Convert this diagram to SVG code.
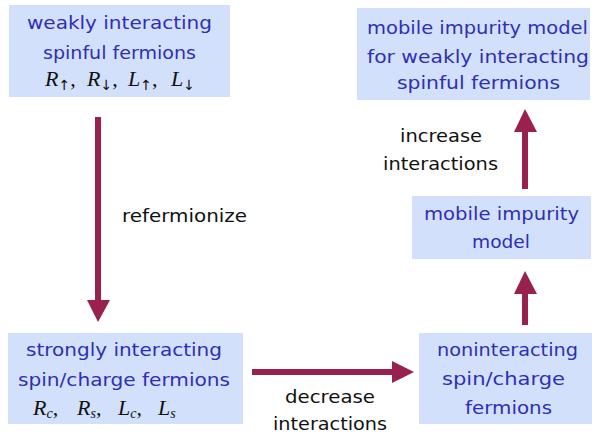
<svg xmlns="http://www.w3.org/2000/svg" width="595" height="434" viewBox="0 0 595 434">
<style>
.box{fill:#d3e0fb;}
.t{font-family:"DejaVu Sans","Noto Sans",sans-serif;font-size:18px;fill:#2e2fb4;}
.k{font-family:"DejaVu Sans","Noto Sans",sans-serif;font-size:18px;fill:#111;}
.m{font-family:"Liberation Serif","DejaVu Serif",serif;font-size:22px;fill:#111;}
.i{font-style:italic;}
.s{font-size:14px;}
.arr{fill:#99214f;}
</style>
<rect width="595" height="434" fill="#fff"/>
<g id="n1">
<rect class="box" x="9" y="5" width="221" height="92"/>
<text class="t" x="27" y="29" textLength="185" lengthAdjust="spacingAndGlyphs">weakly interacting</text>
<text class="t" x="43" y="59" textLength="153" lengthAdjust="spacingAndGlyphs">spinful fermions</text>
<text class="m" x="45" y="86"><tspan class="i">R</tspan><tspan class="s" font-family="DejaVu Sans" dy="4">↑</tspan><tspan dy="-4">,</tspan></text>
<text class="m" x="87" y="86"><tspan class="i">R</tspan><tspan class="s" font-family="DejaVu Sans" dy="4">↓</tspan><tspan dy="-4">,</tspan></text>
<text class="m" x="128" y="86"><tspan class="i">L</tspan><tspan class="s" font-family="DejaVu Sans" dy="4">↑</tspan><tspan dy="-4">,</tspan></text>
<text class="m" x="171" y="86"><tspan class="i">L</tspan><tspan class="s" font-family="DejaVu Sans" dy="4">↓</tspan></text>
</g>
<g id="n2">
<rect class="box" x="357" y="8" width="233" height="92"/>
<text class="t" x="367" y="34" textLength="221" lengthAdjust="spacingAndGlyphs">mobile impurity model</text>
<text class="t" x="367" y="63" textLength="222" lengthAdjust="spacingAndGlyphs">for weakly interacting</text>
<text class="t" x="397" y="89" textLength="163" lengthAdjust="spacingAndGlyphs">spinful fermions</text>
</g>
<g id="n3">
<rect class="box" x="8" y="333" width="235" height="91"/>
<text class="t" x="26" y="356" textLength="196" lengthAdjust="spacingAndGlyphs">strongly interacting</text>
<text class="t" x="18" y="386" textLength="212" lengthAdjust="spacingAndGlyphs">spin/charge fermions</text>
<text class="m" x="33" y="415"><tspan class="i">R</tspan><tspan class="s i" dy="3">c</tspan><tspan dy="-3">,</tspan></text>
<text class="m" x="77" y="415"><tspan class="i">R</tspan><tspan class="s i" dy="3">s</tspan><tspan dy="-3">,</tspan></text>
<text class="m" x="118" y="415"><tspan class="i">L</tspan><tspan class="s i" dy="3">c</tspan><tspan dy="-3">,</tspan></text>
<text class="m" x="158" y="415"><tspan class="i">L</tspan><tspan class="s i" dy="3">s</tspan></text>
</g>
<g id="n4">
<rect class="box" x="419" y="333" width="173" height="91"/>
<text class="t" x="437" y="356" textLength="141" lengthAdjust="spacingAndGlyphs">noninteracting</text>
<text class="t" x="442" y="385" textLength="123" lengthAdjust="spacingAndGlyphs">spin/charge</text>
<text class="t" x="465" y="414" textLength="87" lengthAdjust="spacingAndGlyphs">fermions</text>
</g>
<g id="n5">
<rect class="box" x="412" y="196" width="179" height="63"/>
<text class="t" x="424" y="220" textLength="155" lengthAdjust="spacingAndGlyphs">mobile impurity</text>
<text class="t" x="472" y="248" textLength="58" lengthAdjust="spacingAndGlyphs">model</text>
</g>
<g id="connectors">
<polygon class="arr" points="95,117 101,117 101,300 110,300 98,322 87,300 95,300"/>
<polygon class="arr" points="252,369 392,369 392,361 414,372 392,383 392,375 252,375"/>
<polygon class="arr" points="522,189 528,189 528,132 537,132 525,109 514,132 522,132"/>
<polygon class="arr" points="522,325 528,325 528,294 537,294 525,271 514,294 522,294"/>
<text class="k" x="122" y="222" textLength="125" lengthAdjust="spacingAndGlyphs">refermionize</text>
<text class="k" x="285" y="403" textLength="90" lengthAdjust="spacingAndGlyphs">decrease</text>
<text class="k" x="273" y="430" textLength="114" lengthAdjust="spacingAndGlyphs">interactions</text>
<text class="k" x="400" y="142" textLength="82" lengthAdjust="spacingAndGlyphs">increase</text>
<text class="k" x="383" y="170" textLength="115" lengthAdjust="spacingAndGlyphs">interactions</text>
</g>
</svg>
